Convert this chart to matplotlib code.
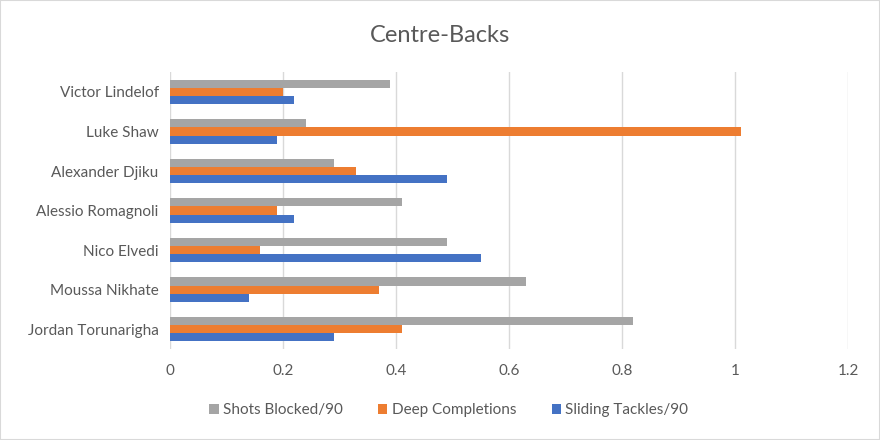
import numpy as np
import matplotlib.pyplot as plt
from matplotlib.patches import Rectangle

# players, listed bottom to top as drawn
players = ["Jordan Torunarigha", "Moussa Nikhate", "Nico Elvedi",
           "Alessio Romagnoli", "Alexander Djiku", "Luke Shaw", "Victor Lindelof"]
shots_blocked = [0.82, 0.63, 0.49, 0.41, 0.29, 0.24, 0.39]
deep_completions = [0.41, 0.37, 0.16, 0.19, 0.33, 1.01, 0.20]
sliding_tackles = [0.29, 0.14, 0.55, 0.22, 0.49, 0.19, 0.22]
x_ticks = [0, 0.2, 0.4, 0.6, 0.8, 1.0, 1.2]
x_tick_labels = ["0", "0.2", "0.4", "0.6", "0.8", "1", "1.2"]

plt.rcParams["font.family"] = ["Lato", "DejaVu Sans"]
text_color = "#595959"

fig = plt.figure(figsize=(8.8, 4.4), dpi=100)
ax = fig.add_axes([0.193, 0.207, 0.771, 0.629])

y = np.arange(len(players))
h = 0.205
series = [
    (shots_blocked, "#A5A5A5", "Shots Blocked/90", h),
    (deep_completions, "#ED7D31", "Deep Completions", 0),
    (sliding_tackles, "#4472C4", "Sliding Tackles/90", -h),
]
for values, color, label, offset in series:
    ax.barh(y + offset, values, height=h, color=color, label=label, zorder=3)

ax.set_xlim(0, 1.2)
ax.set_ylim(-0.5, len(players) - 0.5)
ax.set_xticks(x_ticks)
ax.set_xticklabels(x_tick_labels)
ax.set_yticks(y)
ax.set_yticklabels(players)
ax.tick_params(axis="both", length=0, colors=text_color, labelsize=11)
ax.tick_params(axis="x", pad=11)
ax.tick_params(axis="y", pad=8)
ax.grid(axis="x", color="#D9D9D9", linewidth=1, zorder=0)
for s in ax.spines.values():
    s.set_visible(False)

fig.text(0.5, 0.92, "Centre-Backs", ha="center", va="center",
         fontsize=17, color=text_color)

handles, labels = ax.get_legend_handles_labels()
leg = fig.legend(handles, labels, loc="center", bbox_to_anchor=(0.51, 0.068),
                 ncol=3, frameon=False, fontsize=11, handlelength=0.6,
                 handleheight=0.6, handletextpad=0.3, columnspacing=2.3)
for t in leg.get_texts():
    t.set_color(text_color)

fig.patches.append(Rectangle((0, 0), 1, 1, transform=fig.transFigure,
                             fill=False, edgecolor="#D9D9D9", linewidth=1.5))

fig.savefig("out.png", dpi=100)
